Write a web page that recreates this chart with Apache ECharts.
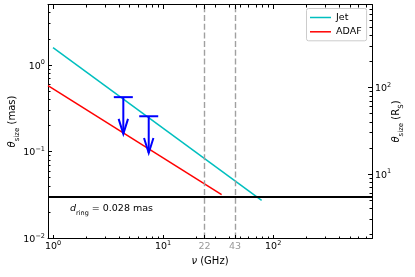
<!DOCTYPE html>
<html><head><meta charset="utf-8">
<script src="https://cdn.jsdelivr.net/npm/echarts@6/dist/echarts.min.js"></script>
<style>html,body{margin:0;padding:0;background:#fff}#c{width:415px;height:277px}</style>
</head><body><div id="c"></div>
<script>
// ---- data ----
const jetNu = [1, 78.5];
const jetTheta = [1.59, 0.0275];
const adafNu = [0.9, 34];
const adafTheta = [0.58, 0.032];
const limNu = [4.35, 7.4];
const limCap = [0.427, 0.257];
const limTip = [0.161, 0.097];
const ringTheta = 0.028;
const bandPos = [23.8, 45];
const bandLabels = ['22', '43'];
const xRange = [0.9, 790];
const yRange = [0.01, 5];
const masPerRs = 0.0055;
const xMajor = [1, 10, 100];
const xMinor = [2,3,4,5,6,7,8,9,20,30,40,50,60,70,80,90,200,300,400,500,600,700];
const yMajor = [0.01, 0.1, 1];
const yMinor = [0.02,0.03,0.04,0.05,0.06,0.07,0.08,0.09,0.2,0.3,0.4,0.5,0.6,0.7,0.8,0.9,2,3,4,5];
const rsMajor = [10, 100];
const rsMinor = [2,3,4,5,6,7,8,9,20,30,40,50,60,70,80,90,200,300,400,500,600,700,800,900];

const FONT = 'DejaVu Sans';
const rich = {
  b: {fontSize: 9.5, fontFamily: FONT, color: '#000', lineHeight: 12, verticalAlign: 'bottom'},
  s: {fontSize: 6.5, fontFamily: FONT, color: '#000', lineHeight: 12, verticalAlign: 'top'},
  g: {fontSize: 9.5, fontFamily: FONT, color: '#999', lineHeight: 12, verticalAlign: 'bottom'}
};
function sup(v) {
  const e = Math.round(Math.log10(v));
  return '{b|10}{s|' + (e < 0 ? '\u2212' + (-e) : e) + '}';
}
function xFmt(v) {
  for (let i = 0; i < bandPos.length; i++) {
    if (Math.abs(v - bandPos[i]) / bandPos[i] < 0.01) return '{g|' + bandLabels[i] + '}';
  }
  return sup(v);
}
const none = {show: false};
function axisBase(range, pos, label) {
  return {
    type: 'log', logBase: 10, min: range[0], max: range[1], position: pos,
    axisLine: {show: true, onZero: false, lineStyle: {color: '#000', width: 1}},
    axisTick: none, axisLabel: label || none,
    splitLine: none, minorTick: none, minorSplitLine: none,
    nameMoveOverlap: false
  };
}
const xMain = axisBase(xRange, 'bottom',
  {show: true, customValues: xMajor.concat(bandPos), formatter: xFmt, margin: 1, rich: rich});
xMain.name = '{i|\u03bd}{n| (GHz)}';
xMain.nameLocation = 'middle';
xMain.nameGap = 18;
xMain.nameTextStyle = {rich: {i: {fontStyle: 'italic', fontSize: 10, fontFamily: FONT, color: '#000'}, n: {fontSize: 10, fontFamily: FONT, color: '#000'}}};

const yMain = axisBase(yRange, 'left',
  {show: true, customValues: yMajor, formatter: sup, margin: 3, rich: rich});
yMain.name = '{t|\u03b8}{s|size}{n| (mas)}';
yMain.nameLocation = 'middle';
yMain.nameRotate = 90;
yMain.nameGap = 27;
const nameRich = {
  t: {fontStyle: 'italic', fontSize: 10, fontFamily: FONT, color: '#000', lineHeight: 14, verticalAlign: 'top'},
  s: {fontSize: 7, fontFamily: FONT, color: '#000', lineHeight: 14, verticalAlign: 'bottom'},
  n: {fontSize: 10, fontFamily: FONT, color: '#000', lineHeight: 14, verticalAlign: 'top'}
};
yMain.nameTextStyle = {rich: nameRich};

const rsRange = [yRange[0] / masPerRs, yRange[1] / masPerRs];
const yRs = axisBase(rsRange, 'right',
  {show: true, customValues: rsMajor, formatter: sup, margin: 3, rich: rich});
yRs.name = '{t|\u03b8}{s|size}{n| (R}{s|S}{n|)}';
yRs.nameLocation = 'middle';
yRs.nameRotate = 90;
yRs.nameGap = 19;
yRs.nameTextStyle = {rich: nameRich};

const chart = echarts.init(document.getElementById('c'), null, {renderer: 'canvas'});
chart.setOption({
  animation: false,
  backgroundColor: '#fff',
  grid: {left: 48, right: 43, top: 4.5, bottom: 38.5, containLabel: false, outerBoundsMode: 'none'},
  legend: {
    data: [{name: 'Jet', icon: 'rect'}, {name: 'ADAF', icon: 'rect'}],
    orient: 'vertical', left: 306.5, top: 8.5,
    itemWidth: 21, itemHeight: 1.5, itemGap: 4.3, padding: [4, 5, 4, 3.5],
    backgroundColor: 'rgba(255,255,255,0.8)', borderColor: '#cccccc', borderWidth: 1, borderRadius: 2,
    textStyle: {fontFamily: FONT, fontSize: 9.5, color: '#000', lineHeight: 10}
  },
  xAxis: [
    xMain,
    axisBase(xRange, 'top')
  ],
  yAxis: [
    yMain,
    yRs
  ],
  series: [
    {
      name: 'Jet', type: 'line', xAxisIndex: 0, yAxisIndex: 0, symbol: 'none', showSymbol: false,
      data: jetNu.map((v, i) => [v, jetTheta[i]]),
      lineStyle: {color: '#00bfbf', width: 1.5}, itemStyle: {color: '#00bfbf'}, z: 3
    },
    {
      name: 'ADAF', type: 'line', xAxisIndex: 0, yAxisIndex: 0, symbol: 'none', showSymbol: false,
      data: adafNu.map((v, i) => [v, adafTheta[i]]),
      lineStyle: {color: '#ff0000', width: 1.5}, itemStyle: {color: '#ff0000'}, z: 3,
      markLine: {
        silent: true, symbol: ['none', 'none'], animation: false,
        data: bandPos.map(v => ({xAxis: v, lineStyle: {color: '#a0a0a0', width: 1.4, type: [6, 2.7]}, label: {show: false}}))
          .concat([{
            yAxis: ringTheta, lineStyle: {color: '#000', width: 2, type: 'solid'},
            label: {
              show: true, position: 'insideStartBottom', distance: [22, 6],
              formatter: '{i|d}{s|ring}{n| = 0.028 mas}',
              rich: {
                i: {fontStyle: 'italic', fontSize: 9.5, fontFamily: FONT, color: '#000', lineHeight: 14, verticalAlign: 'top'},
                s: {fontSize: 6.5, fontFamily: FONT, color: '#000', lineHeight: 14, verticalAlign: 'bottom'},
                n: {fontSize: 9.5, fontFamily: FONT, color: '#000', lineHeight: 14, verticalAlign: 'top'}
              }
            }
          }])
      }
    },
    {
      name: 'limits', type: 'custom', xAxisIndex: 0, yAxisIndex: 0, z: 4,
      data: limNu.map((v, i) => [v, limCap[i], limTip[i]]),
      encode: {x: 0, y: [1, 2]},
      renderItem: function (params, api) {
        const a = api.coord([api.value(0), api.value(1)]);
        const b = api.coord([api.value(0), api.value(2)]);
        const st = {stroke: '#0000ff', lineWidth: 2, fill: null};
        return {type: 'group', children: [
          {type: 'line', shape: {x1: a[0] - 9.5, y1: a[1], x2: a[0] + 9.5, y2: a[1]}, style: st},
          {type: 'line', shape: {x1: a[0], y1: a[1], x2: b[0], y2: b[1]}, style: st},
          {type: 'polyline', shape: {points: [[b[0] - 4.7, b[1] - 15], [b[0], b[1]], [b[0] + 4.7, b[1] - 15]]}, style: st}
        ]};
      }
    }
  ]
});

// ---- tick marks, positioned through the chart's own axis scales (snapped to whole pixels) ----
function snap(v) { return Math.round(v - 0.5) + 0.5; }
function px(v) { return snap(chart.convertToPixel({xAxisIndex: 0}, v)); }
function py(v, idx) { return snap(chart.convertToPixel({yAxisIndex: idx}, v)); }
const yBot = Math.round(chart.convertToPixel({yAxisIndex: 0}, yRange[0]));
const yTop = Math.round(chart.convertToPixel({yAxisIndex: 0}, yRange[1]));
const xLeft = Math.round(chart.convertToPixel({xAxisIndex: 0}, xRange[0]));
const xRight = Math.round(chart.convertToPixel({xAxisIndex: 0}, xRange[1]));
const ticks = [];
function tl(x1, y1, x2, y2) {
  ticks.push({type: 'line', silent: true, z: 100,
    shape: {x1: x1, y1: y1, x2: x2, y2: y2}, style: {stroke: '#000', lineWidth: 1}});
}
function addX(vals, len) {
  vals.forEach(v => { const x = px(v); tl(x, yBot, x, yBot - len); tl(x, yTop, x, yTop + len); });
}
function addY(vals, len, idx, atRight) {
  vals.forEach(v => { const y = py(v, idx);
    if (atRight) tl(xRight, y, xRight - len, y); else tl(xLeft, y, xLeft + len, y); });
}
addX(xMajor.concat(bandPos), 4);
addX(xMinor, 2.5);
addY(yMajor, 4, 0, false);
addY(yMinor, 2.5, 0, false);
addY(rsMajor, 4, 1, true);
addY(rsMinor, 2.5, 1, true);
chart.setOption({graphic: {elements: ticks}});
</script>
</body></html>
